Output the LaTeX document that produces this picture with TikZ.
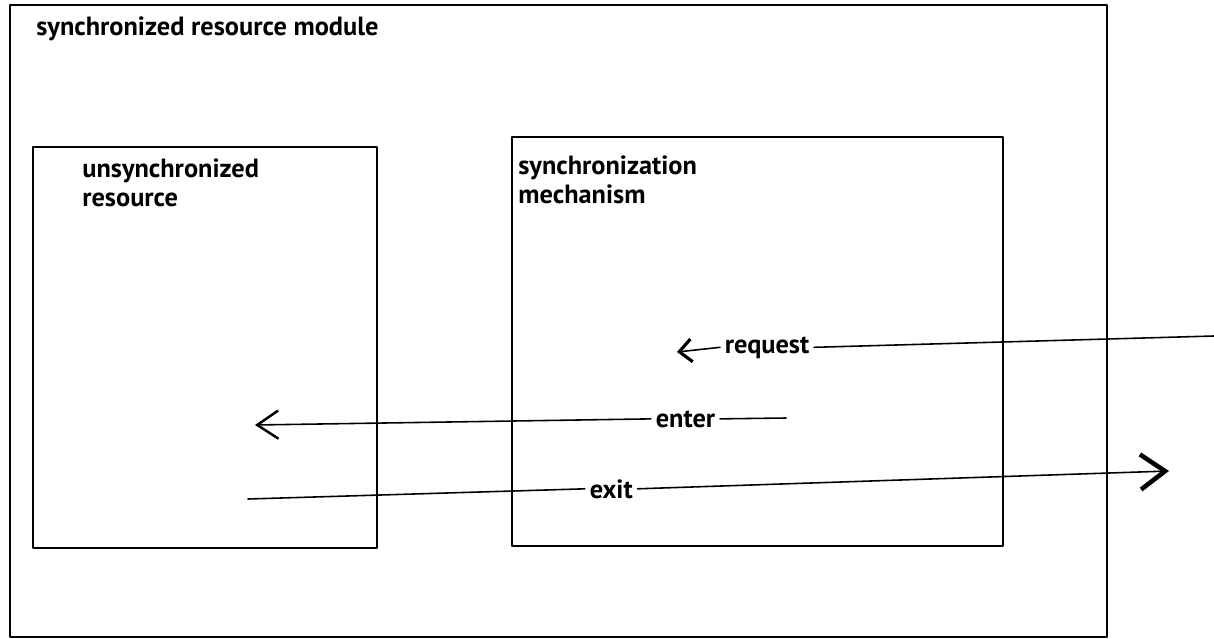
\documentclass[tikz,border=0pt]{standalone}
\usepackage{fontspec}
\setmainfont{PT Sans}
\usepackage{tikz}
\usetikzlibrary{arrows.meta}

\begin{document}
\begin{tikzpicture}[x=0.02cm, y=-0.02cm, line cap=round, line join=round,
    font=\fontsize{15}{16}\selectfont\bfseries,
    box/.style={line width=1.1pt},
    wire/.style={line width=0.9pt},
    lbl/.style={inner sep=2.5pt, anchor=base west},
    boxtext/.style={inner sep=0pt, anchor=base west, align=left}]

  % ===== 枠 =====
  \useasboundingbox (0,0) rectangle (1214,639);
  \draw[box] (10,5) rectangle (1107,637);
  \draw[box] (33,147) rectangle (377,548);
  \draw[box] (512,137) rectangle (1003,546);

  % ===== 見出し =====
  % align=left なので base は最終行
  \node[boxtext] (module) at (36,35) {synchronized resource module};
  \node[boxtext] (unres) at (82,206) {unsynchronized\\resource};
  \node[boxtext] (mech) at (518,203) {synchronization\\mechanism};

  % ===== 端点 =====
  \coordinate (reqstart) at (1214,336);
  \coordinate (reqtip) at (677,352);
  \coordinate (entend) at (786,418);
  \coordinate (enttip) at (255,425);
  \coordinate (exstart) at (248,499);
  \coordinate (extip) at (1169,471);

  % ===== request =====
  \node[lbl] (req) at (720,353) {request};
  \draw[wire] (reqstart) -- (req.east);
  \draw[wire, -{Straight Barb[length=7pt, width=13pt, line width=1.8pt]}]
  (req.west) -- (reqtip);

  % ===== enter =====
  \node[lbl] (ent) at (651,427) {enter};
  \draw[wire] (entend) -- (ent.east);
  \draw[wire, -{Straight Barb[length=12pt, width=16pt, line width=1.4pt]}]
  (ent.west) -- (enttip);

  % ===== exit =====
  \node[lbl] (ex) at (585,498) {exit};
  \draw[wire] (exstart) -- (ex.west);
  \draw[wire, -{Straight Barb[length=14pt, width=20pt, line width=2.6pt]}]
  (ex.east) -- (extip);

\end{tikzpicture}
\end{document}
